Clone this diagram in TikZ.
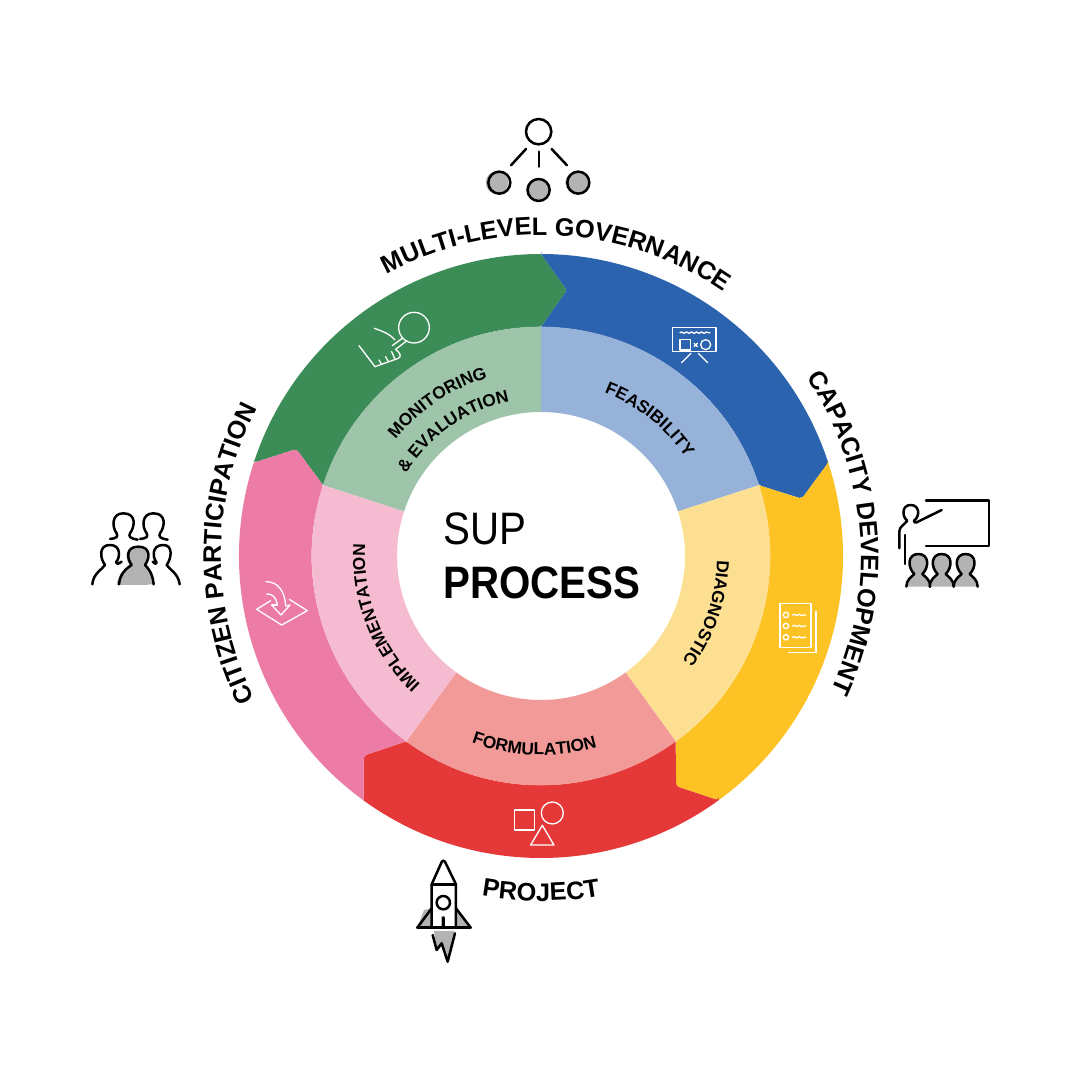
\documentclass[tikz,border=0pt]{standalone}
\usepackage{fontspec}
\setmainfont{Liberation Sans}
\newfontfamily\narrowfont[FakeStretch=0.885]{Liberation Sans}
\usetikzlibrary{decorations.pathmorphing,decorations.text}
\definecolor{govgreen}{HTML}{3C8C58}
\definecolor{capblue}{HTML}{2B63AE}
\definecolor{devyellow}{HTML}{FDC325}
\definecolor{projred}{HTML}{E53838}
\definecolor{citpink}{HTML}{EC7BA5}
\definecolor{palegreen}{HTML}{9EC5A9}
\definecolor{paleblue}{HTML}{97B2D9}
\definecolor{paleyellow}{HTML}{FDDF92}
\definecolor{palered}{HTML}{F29A98}
\definecolor{palepink}{HTML}{F5BBD0}
\definecolor{icongray}{HTML}{B3B3B3}
\newcommand{\bigfont}{\fontsize{25.3}{25.3}\selectfont\bfseries}
\newcommand{\smallfont}{\fontsize{17.3}{17.3}\selectfont\bfseries}
\tikzset{
  icon at/.style 2 args={shift={(#1-541,556-#2)},x=0.3333pt,y=-0.3333pt},
  white icon/.style={draw=white,line width=1.3pt,line join=round,line cap=round},
  dark icon/.style={draw=black,line width=2.5pt,line join=round,line cap=round},
  wave line/.style={white icon,decorate,decoration={snake,amplitude=0.7pt,segment length=5pt}},
  big label/.style={decorate,decoration={text along path,text align=center,text={|\bigfont|#1}}},
  small label/.style={decorate,decoration={text along path,text align=center,text={|\smallfont|#1}}},
  crowd head/.pic={
    \draw[dark icon] (-40,77) .. controls (-20,75) and (-15,70) .. (-20,60)
      .. controls (-35,40) and (-35,0) .. (0,0) .. controls (40,0) and (35,40) .. (20,60)
      .. controls (15,70) and (20,75) .. (43,79);
  },
  class person/.pic={
    \draw[dark icon,fill=icongray] (-36,0) .. controls (-36,-20) and (-22,-28) .. (-12,-38)
      .. controls (-33,-58) and (-33,-98) .. (0,-98) .. controls (33,-98) and (33,-58) .. (12,-38)
      .. controls (22,-28) and (36,-20) .. (36,0);
  },
}
% one outer band, #1 = start angle, #2 = colour
\newcommand{\outerband}[2]{
  \fill[#2] (#1:302) arc[start angle=#1,end angle=#1-72,radius=302]
    [rounded corners=3pt] -- (#1-77.6:267) -- (#1-72:229) [sharp corners]
    arc[start angle=#1-72,end angle=#1,radius=229]
    [rounded corners=3pt] -- (#1-5.6:267) -- (#1:302) [sharp corners] -- cycle;
}
% one inner band
\newcommand{\innerband}[2]{
  \fill[#2] (#1:229.3) arc[start angle=#1,end angle=#1-72,radius=229.3]
    -- (#1-72:144) arc[start angle=#1-72,end angle=#1,radius=144] -- cycle;
}
\begin{document}
\begin{tikzpicture}[x=1pt,y=1pt]
  \useasboundingbox (-541,-525) rectangle (540,556);
  % outer ring
  \outerband{162}{govgreen}
  \outerband{90}{capblue}
  \outerband{18}{devyellow}
  \outerband{-54}{projred}
  \outerband{-126}{citpink}
  % inner ring
  \innerband{162}{palegreen}
  \innerband{90}{paleblue}
  \innerband{18}{paleyellow}
  \innerband{-54}{palered}
  \innerband{-126}{palepink}
  % centre title
  \node[anchor=base west,inner sep=0pt,font=\narrowfont\fontsize{45.5}{45.5}\selectfont] (sup) at (-98,11) {SUP};
  \node[anchor=base west,inner sep=0pt,font=\narrowfont\fontsize{45.5}{45.5}\selectfont\bfseries] (process) at (-98,-42) {PROCESS};
  % curved labels
  \path[big label={MULTI-LEVEL GOVERNANCE}] (147:321) arc[start angle=147,end angle=27,radius=321];
  \path[big label={CAPACITY DEVELOPMENT}] (64.5:320) arc[start angle=64.5,end angle=-55.5,radius=320];
  \path[big label={PROJECT}] (240:345) arc[start angle=240,end angle=300,radius=345];
  \path[big label={CITIZEN PARTICIPATION}] (239.5:320) arc[start angle=239.5,end angle=119.5,radius=320];
  \path[small label={FEASIBILITY}] (101.5:175) arc[start angle=101.5,end angle=1.5,radius=175];
  \path[small label={DIAGNOSTIC}] (31:176) arc[start angle=31,end angle=-69,radius=176];
  \path[small label={FORMULATION}] (218:199) arc[start angle=218,end angle=318,radius=199];
  \path[small label={IMPLEMENTATION}] (251.5:176) arc[start angle=251.5,end angle=151.5,radius=176];
  \path[small label={MONITORING}] (174:186) arc[start angle=174,end angle=74,radius=186];
  \path[small label={{\&} EVALUATION}] (175:158) arc[start angle=175,end angle=75,radius=158];
  % governance icon
  \begin{scope}[icon at={340}{100}]
    \draw[dark icon] (596,95) circle[radius=38];
    \draw[dark icon] (558,147) -- (513,196);
    \draw[dark icon] (597,155) -- (597,200);
    \draw[dark icon] (635,147) -- (681,196);
    \fill[icongray] (471,248) circle[radius=34];
    \fill[icongray] (592,270) circle[radius=34];
    \fill[icongray] (710,248) circle[radius=34];
    \draw[dark icon] (478,248) circle[radius=33];
    \draw[dark icon] (596,270) circle[radius=33];
    \draw[dark icon] (715,248) circle[radius=33];
  \end{scope}
  % class icon
  \begin{scope}[icon at={890}{490}]
    \draw[dark icon] (108,32) -- (297,32) -- (297,168) -- (108,168);
    \draw[dark icon] (28,175) -- (28,125) .. controls (28,110) and (42,105) .. (52,92)
      .. controls (35,80) and (35,45) .. (62,45) .. controls (90,45) and (90,80) .. (72,92)
      .. controls (72,97) and (75,100) .. (80,97) -- (155,60);
    \draw[dark icon] (45,135) -- (45,222);
    \pic at (85,290) {class person};
    \pic at (227,290) {class person};
    \pic at (155,290) {class person};
  \end{scope}
  % crowd icon
  \begin{scope}[icon at={85}{505}]
    \pic at (115,25) {crowd head};
    \pic at (205,25) {crowd head};
    \draw[dark icon] (22,238) .. controls (25,205) and (50,195) .. (60,180)
      .. controls (45,160) and (40,120) .. (75,120) .. controls (110,120) and (105,160) .. (93,172)
      .. controls (92,178) and (100,178) .. (110,170);
    \draw[dark icon] (284,238) .. controls (280,205) and (255,195) .. (245,180)
      .. controls (260,160) and (265,120) .. (235,120) .. controls (198,120) and (203,160) .. (215,172)
      .. controls (217,178) and (210,178) .. (203,170);
    \fill[icongray] (95,240) .. controls (100,205) and (120,190) .. (133,180)
      .. controls (120,160) and (118,125) .. (155,125) -- (190,240) -- cycle;
    \draw[dark icon,fill=icongray] (102,238) .. controls (105,205) and (125,190) .. (140,180)
      .. controls (125,160) and (122,125) .. (160,125) .. controls (198,125) and (195,160) .. (180,180)
      .. controls (190,190) and (203,205) .. (206,238);
  \end{scope}
  % rocket icon
  \begin{scope}[icon at={410}{855}]
    \fill[icongray] (42,165) -- (65,160) -- (65,218) -- (22,218) -- cycle;
    \fill[icongray] (138,160) -- (150,175) -- (182,218) -- (138,218) -- cycle;
    \fill[icongray] (72,228) -- (133,228) -- (125,280) -- (113,310) -- (95,265) -- (80,285) -- cycle;
    \fill[icongray] (94,183) rectangle (106,215);
    \draw[dark icon] (65,218) -- (65,88) [rounded corners=4pt] -- (100,10) [sharp corners] -- (138,88) -- (138,218);
    \draw[dark icon] (65,88) -- (138,88);
    \draw[dark icon] (22,218) -- (182,218);
    \draw[dark icon] (65,160) -- (22,218);
    \draw[dark icon] (138,160) -- (182,218);
    \draw[dark icon] (100,143) circle[radius=20];
    \draw[dark icon] (100,188) -- (100,215);
    \draw[dark icon] (68,240) -- (80,285) -- (95,265) -- (113,320) -- (135,235);
  \end{scope}
  % monitoring icon
  \begin{scope}[icon at={350}{305}]
    \draw[white icon] (192,68) circle[radius=46];
    \draw[white icon] (157,100) -- (127,122);
    \draw[white icon] (167,110) -- (137,133);
    \draw[white icon] (73,70) .. controls (95,78) and (118,85) .. (135,105);
    \draw[white icon] (27,122) -- (75,185) -- (145,160) .. controls (155,155) and (152,145) .. (137,133);
    \draw[white icon] (87,165) -- (95,178);
    \draw[white icon] (107,155) -- (115,170);
    \draw[white icon] (125,140) -- (135,163);
  \end{scope}
  % feasibility icon
  \begin{scope}[icon at={665}{320}]
    \draw[white icon] (22,22) rectangle (153,95);
    \draw[wave line] (45,38) -- (135,38);
    \draw[white icon] (45,58) rectangle (77,90);
    \draw[white icon] (87,70) -- (97,80);
    \draw[white icon] (87,80) -- (97,70);
    \draw[white icon] (122,74) circle[radius=15];
    \draw[white icon] (78,100) -- (50,128);
    \draw[white icon] (100,100) -- (128,128);
  \end{scope}
  % diagnostic icon
  \begin{scope}[icon at={660}{420}]
    \draw[white icon] (360,550) rectangle (453,683);
    \draw[white icon] (468,575) -- (468,698) -- (386,698);
    \draw[white icon] (378,585) circle[radius=8];
    \draw[white icon] (378,618) circle[radius=8];
    \draw[white icon] (378,652) circle[radius=8];
    \draw[wave line] (398,585) -- (437,585);
    \draw[wave line] (398,618) -- (437,618);
    \draw[wave line] (398,652) -- (437,652);
  \end{scope}
  % formulation icon
  \begin{scope}[icon at={340}{720}]
    \draw[white icon] (523,270) rectangle (583,330);
    \draw[white icon] (637,279) circle[radius=33];
    \draw[white icon] (607,316) -- (642,375) -- (572,375) -- cycle;
  \end{scope}
  % implementation icon
  \begin{scope}[icon at={250}{570}]
    \draw[white icon] (62,92) -- (20,118) -- (95,165) -- (172,122) -- (118,88);
    \draw[white icon] (48,35) .. controls (85,35) and (105,65) .. (107,108);
    \draw[white icon] (50,72) .. controls (68,70) and (80,85) .. (82,105);
    \draw[white icon] (65,105) -- (93,135) -- (120,105);
    \draw[white icon] (65,105) -- (82,105);
    \draw[white icon] (107,108) -- (120,105);
  \end{scope}
\end{tikzpicture}
\end{document}
